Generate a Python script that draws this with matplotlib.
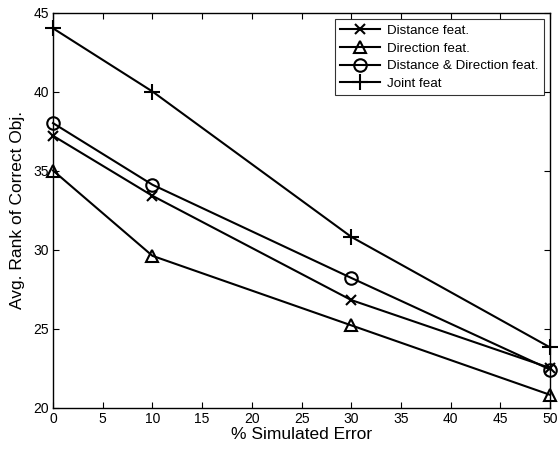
import matplotlib
matplotlib.use("Agg")
import matplotlib.pyplot as plt

x = [0, 10, 30, 50]
distance = [37.2, 33.4, 26.8, 22.5]
direction = [35.0, 29.6, 25.2, 20.8]
dist_dir = [38.0, 34.1, 28.2, 22.4]
joint = [44.0, 40.0, 30.8, 23.8]

plt.rcParams['font.family'] = ['Liberation Sans', 'DejaVu Sans']

fig = plt.figure(figsize=(5.58, 4.53), dpi=100)
ax = fig.add_axes([0.095, 0.1004, 0.891, 0.872])

base = dict(color='black', linewidth=1.5, markerfacecolor='none', markeredgewidth=1.5, clip_on=False)
ax.plot(x, distance, marker='x', markersize=7, label='Distance feat.', **base)
ax.plot(x, direction, marker='^', markersize=9, label='Direction feat.', **base)
ax.plot(x, dist_dir, marker='o', markersize=9, label='Distance & Direction feat.', **base)
ax.plot(x, joint, marker='+', markersize=12, label='Joint feat', **base)

ax.set_xlim(0, 50)
ax.set_ylim(20, 45)
ax.set_xticks(range(0, 51, 5))
ax.set_yticks(range(20, 46, 5))
ax.tick_params(direction='in', top=True, right=True, labelsize=10, length=4, pad=3)
for s in ax.spines.values():
    s.set_linewidth(1.0)
ax.set_xlabel('% Simulated Error', fontsize=12.5, labelpad=1)
ax.set_ylabel('Avg. Rank of Correct Obj.', fontsize=12.5, labelpad=6)

leg = ax.legend(loc='upper right', fontsize=9.6, frameon=True, fancybox=False, edgecolor='black',
                borderaxespad=0.5, handlelength=3.0, labelspacing=0.4, handletextpad=0.5,
                borderpad=0.4)
leg.get_frame().set_linewidth(0.8)

fig.savefig('out.png', dpi=100)
